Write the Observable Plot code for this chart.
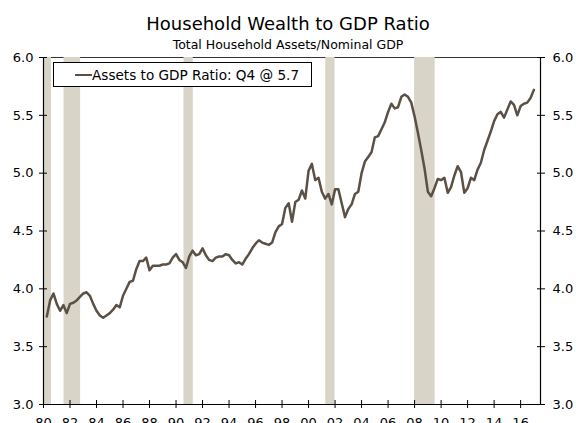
<!DOCTYPE html>
<html>
<head>
<meta charset="utf-8">
<script src="https://cdn.jsdelivr.net/npm/d3@7"></script>
<script src="https://cdn.jsdelivr.net/npm/@observablehq/plot@0.6"></script>
<style>
  html, body { margin: 0; padding: 0; background: #fff; }
  #wrap { position: relative; width: 576px; height: 423px; overflow: hidden; font-family: "DejaVu Sans", Verdana, sans-serif; }
  #head { height: 50px; text-align: center; color: #000; }
  #title { font-size: 18px; line-height: 18px; padding-top: 15px; }
  #subtitle { font-size: 12.5px; line-height: 13px; padding-top: 5px; }
  #legend { position: absolute; left: 53px; top: 62px; width: 257px; height: 23px; border: 1px solid #000; background: #fff;
            display: flex; align-items: center; font-size: 13.6px; color: #000; white-space: nowrap; }
  #legend .sw { display: inline-block; width: 17px; height: 0; border-top: 2.5px solid #5b5046; margin-left: 21px; }
</style>
</head>
<body>
<div id="wrap">
  <div id="head">
    <div id="title">Household Wealth to GDP Ratio</div>
    <div id="subtitle">Total Household Assets/Nominal GDP</div>
  </div>
  <div id="chart"></div>
  <div id="legend"><span class="sw"></span><span id="legtext"></span></div>
</div>
<script>
// ---- Data (quarterly, 1980Q1 .. 2016Q4) ----
const startYear = 1980;
const seriesName = "Assets to GDP Ratio: Q4 @ 5.7";
const values = [
  3.76, 3.90, 3.96, 3.87,   // 1980
  3.81, 3.86, 3.79, 3.87,   // 1981
  3.88, 3.90, 3.93, 3.96,   // 1982
  3.97, 3.94, 3.87, 3.81,   // 1983
  3.77, 3.75, 3.77, 3.79,   // 1984
  3.82, 3.86, 3.84, 3.94,   // 1985
  4.00, 4.06, 4.07, 4.17,   // 1986
  4.24, 4.24, 4.27, 4.16,   // 1987
  4.20, 4.20, 4.20, 4.21,   // 1988
  4.21, 4.22, 4.27, 4.30,   // 1989
  4.25, 4.23, 4.18, 4.28,   // 1990
  4.33, 4.29, 4.30, 4.35,   // 1991
  4.29, 4.25, 4.24, 4.27,   // 1992
  4.28, 4.28, 4.30, 4.29,   // 1993
  4.25, 4.22, 4.23, 4.21,   // 1994
  4.26, 4.30, 4.35, 4.39,   // 1995
  4.42, 4.40, 4.39, 4.38,   // 1996
  4.40, 4.49, 4.54, 4.56,   // 1997
  4.70, 4.74, 4.58, 4.75,   // 1998
  4.77, 4.85, 4.78, 5.02,   // 1999
  5.08, 4.94, 4.96, 4.84,   // 2000
  4.78, 4.82, 4.73, 4.86,   // 2001
  4.86, 4.74, 4.62, 4.69,   // 2002
  4.73, 4.82, 4.84, 5.00,   // 2003
  5.10, 5.14, 5.18, 5.31,   // 2004
  5.32, 5.38, 5.44, 5.53,   // 2005
  5.60, 5.56, 5.57, 5.66,   // 2006
  5.68, 5.66, 5.61, 5.49,   // 2007
  5.35, 5.20, 5.04, 4.84,   // 2008
  4.80, 4.87, 4.95, 4.94,   // 2009
  4.96, 4.83, 4.88, 4.98,   // 2010
  5.06, 5.01, 4.83, 4.87,   // 2011
  4.96, 4.94, 5.03, 5.09,   // 2012
  5.20, 5.28, 5.36, 5.45,   // 2013
  5.51, 5.53, 5.48, 5.55,   // 2014
  5.62, 5.59, 5.50, 5.58,   // 2015
  5.60, 5.61, 5.65, 5.72    // 2016
];
const recessionStart = [1980.0, 1981.55, 1990.6, 2001.3, 2008.0];
const recessionEnd   = [1980.6, 1982.8, 1991.3, 2002.0, 2009.55];
const xTickYears = [1980, 1982, 1984, 1986, 1988, 1990, 1992, 1994, 1996, 1998,
                    2000, 2002, 2004, 2006, 2008, 2010, 2012, 2014, 2016];
const yTicks = [3.0, 3.5, 4.0, 4.5, 5.0, 5.5, 6.0];
const xDomain = [1980, 2017.5];
const yDomain = [3, 6];

// ---- Build tables ----
const data = values.map((v, i) => ({t: startYear + (i + 1) * 0.25, v}));
const recessions = recessionStart.map((s, i) => ({s, e: recessionEnd[i]}));

document.getElementById("legtext").textContent = seriesName;

const lineColor = "#5b5046";
const barColor = "#d8d4c8";

const chart = Plot.plot({
  width: 576,
  height: 384,
  marginTop: 7,
  marginLeft: 43,
  marginRight: 36,
  marginBottom: 30,
  style: {fontFamily: "'DejaVu Sans', Verdana, sans-serif", fontSize: "13px", color: "#000", background: "#fff", overflow: "visible"},
  x: {domain: xDomain},
  y: {domain: yDomain},
  marks: [
    Plot.ruleY([yDomain[1]], {stroke: "#333", strokeWidth: 1}),
    Plot.rect(recessions, {x1: "s", x2: "e", fill: barColor}),
    Plot.line(data, {x: "t", y: "v", stroke: lineColor, strokeWidth: 2.5}),
    Plot.ruleX(xDomain, {stroke: "#000", strokeWidth: 1.2}),
    Plot.ruleY([yDomain[0]], {stroke: "#000", strokeWidth: 1.2}),
    Plot.axisY({anchor: "left", ticks: yTicks, tickFormat: d => d.toFixed(1), tickSize: 8, dx: 4, tickPadding: 6, label: null, stroke: "#000"}),
    Plot.axisY({anchor: "right", ticks: yTicks, tickFormat: d => d.toFixed(1), tickSize: 8, dx: -4, tickPadding: 8, label: null, stroke: "#000"}),
    Plot.axisX({ticks: xTickYears, tickFormat: d => String(d).slice(2), tickSize: 8, dy: -4, tickPadding: 9, label: null, stroke: "#000"})
  ]
});
document.getElementById("chart").appendChild(chart);
</script>
</body>
</html>
